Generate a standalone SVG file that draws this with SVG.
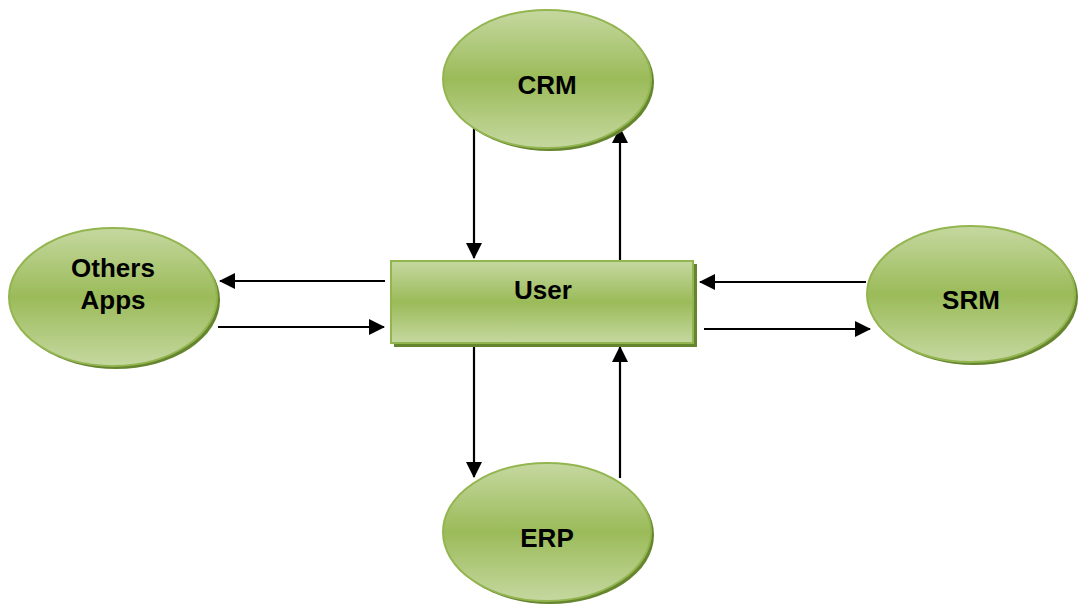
<svg xmlns="http://www.w3.org/2000/svg" width="1078" height="606" viewBox="0 0 1078 606">
  <defs>
    <linearGradient id="greenFill" x1="0" y1="0" x2="0" y2="1">
      <stop offset="0" stop-color="#c5d8a0"/>
      <stop offset="0.5" stop-color="#9bbb59"/>
      <stop offset="1" stop-color="#c5d8a0"/>
    </linearGradient>
    <marker id="arrow" viewBox="0 0 16 16" refX="15" refY="8" markerWidth="16" markerHeight="16" markerUnits="userSpaceOnUse" orient="auto">
      <path d="M0,0 L16,8 L0,16 Z" fill="#000"/>
    </marker>
  </defs>
  <style>
    .shape { fill: url(#greenFill); stroke: #93b550; stroke-width: 2; }
    .shadow { fill: #66852f; }
    .label { font-family: "Liberation Sans", Arial, sans-serif; font-weight: bold; font-size: 26px; fill: #000; text-anchor: middle; }
    .link { stroke: #000; stroke-width: 2.2; fill: none; marker-end: url(#arrow); }
  </style>
  <rect width="1078" height="606" fill="#fff"/>

  <g id="connectors">
    <line class="link" x1="474" y1="128" x2="474" y2="258"/>
    <line class="link" x1="620" y1="260" x2="620" y2="128"/>
    <line class="link" x1="385" y1="281" x2="220" y2="281"/>
    <line class="link" x1="218" y1="327" x2="384" y2="327"/>
    <line class="link" x1="866" y1="282" x2="700" y2="282"/>
    <line class="link" x1="704" y1="329" x2="870" y2="329"/>
    <line class="link" x1="474" y1="346" x2="474" y2="477"/>
    <line class="link" x1="620" y1="478" x2="620" y2="347"/>
  </g>

  <g id="crm">
    <ellipse class="shadow" cx="550" cy="82" rx="104" ry="69"/>
    <ellipse class="shape" cx="547" cy="79" rx="104" ry="69"/>
    <text class="label" x="547" y="94">CRM</text>
  </g>

  <g id="others-apps">
    <ellipse class="shadow" cx="116" cy="300" rx="104" ry="69"/>
    <ellipse class="shape" cx="113" cy="297" rx="104" ry="69"/>
    <text class="label" x="113" y="277">Others</text>
    <text class="label" x="113" y="309">Apps</text>
  </g>

  <g id="user">
    <rect class="shadow" x="394" y="264" width="303" height="83"/>
    <rect class="shape" x="391" y="261" width="302" height="82"/>
    <text class="label" x="543" y="299">User</text>
  </g>

  <g id="srm">
    <ellipse class="shadow" cx="974" cy="297" rx="104" ry="68"/>
    <ellipse class="shape" cx="971" cy="294" rx="104" ry="68"/>
    <text class="label" x="971" y="309">SRM</text>
  </g>

  <g id="erp">
    <ellipse class="shadow" cx="550" cy="535" rx="104" ry="69"/>
    <ellipse class="shape" cx="547" cy="532" rx="104" ry="69"/>
    <text class="label" x="547" y="547">ERP</text>
  </g>
</svg>
